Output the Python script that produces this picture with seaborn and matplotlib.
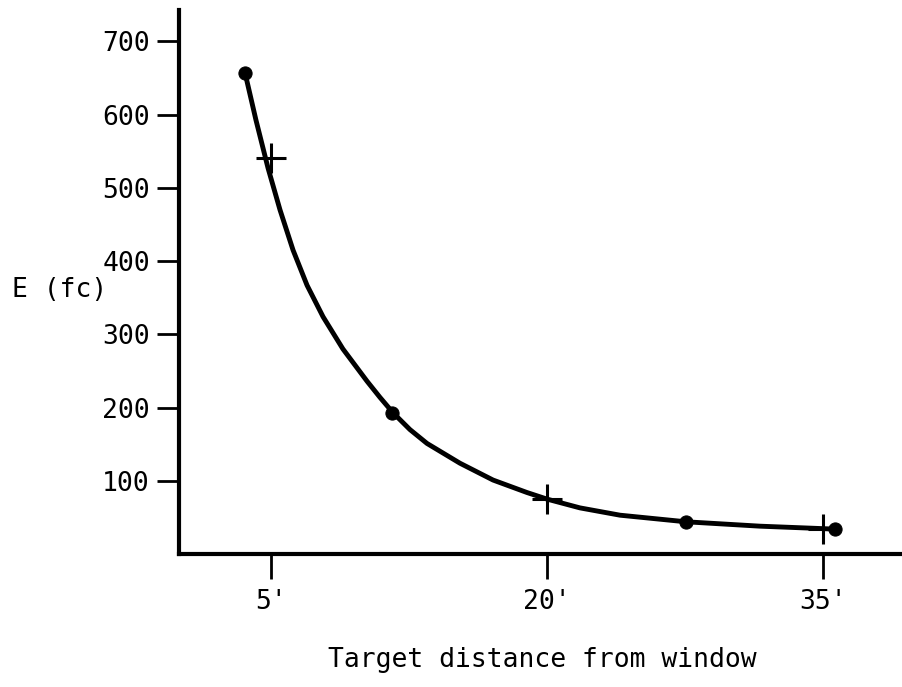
import numpy as np
import pandas as pd
import matplotlib
matplotlib.use("Agg")
import matplotlib.pyplot as plt
import seaborn as sns

# measured points (dots) and check points (pluses)
dot_x = [3.6, 11.6, 27.55, 35.65]
dot_y = [657, 192, 44, 34]
plus_x = [5, 20, 35]
plus_y = [541, 75, 34]

# smooth curve
curve_x = [3.59, 4.18, 4.84, 5.49, 6.2, 6.96, 7.83, 8.91, 10.22, 10.92, 11.63,
           12.55, 13.48, 15.27, 17.07, 18.91, 20.0, 21.79, 23.97, 27.55, 31.58, 35.65]
curve_y = [657, 593, 527, 470, 415, 367, 324, 280, 236, 214, 193,
           170, 151, 124, 101, 84, 75, 63, 53, 44, 38, 34]

xticks = [5, 20, 35]
xtick_labels = ["5'", "20'", "35'"]
yticks = [100, 200, 300, 400, 500, 600, 700]

sns.set_style("white")
plt.rcParams['font.family'] = ['DejaVu Sans Mono', 'DejaVu Sans']
plt.rcParams['text.color'] = 'black'
plt.rcParams['xtick.color'] = 'black'
plt.rcParams['ytick.color'] = 'black'

fig = plt.figure(figsize=(9.03, 6.87), dpi=100)
ax = fig.add_axes([179/903, (687-554)/687, (903-179)/903, (554-10)/687])

curve = pd.DataFrame({'x': curve_x, 'y': curve_y})
sns.lineplot(data=curve, x='x', y='y', sort=False, color='black', linewidth=3.5, ax=ax)
sns.scatterplot(x=dot_x, y=dot_y, color='black', s=90, marker='o', edgecolor='black', ax=ax, zorder=5)
sns.scatterplot(x=plus_x, y=plus_y, color='black', s=450, marker='+', linewidth=2.2, ax=ax, zorder=5)

ax.set_xlim(0, 39.35)
ax.set_ylim(0, 743)
ax.set_xticks(xticks)
ax.set_xticklabels(xtick_labels)
ax.set_yticks(yticks)
ax.set_xlabel('')
ax.set_ylabel('')

sns.despine(ax=ax)
for side in ['left', 'bottom']:
    ax.spines[side].set_linewidth(3)
    ax.spines[side].set_color('black')
ax.tick_params(axis='y', direction='out', length=16, width=2, pad=5, labelsize=19, left=True)
ax.tick_params(axis='x', direction='out', length=18, width=2, pad=7, labelsize=19, bottom=True)

fig.text(12/903, 1 - 290/687, 'E (fc)', fontsize=19, ha='left', va='center')
fig.text(542/903, 1 - 660/687, 'Target distance from window', fontsize=19, ha='center', va='center')

fig.savefig('out.png', dpi=100)
